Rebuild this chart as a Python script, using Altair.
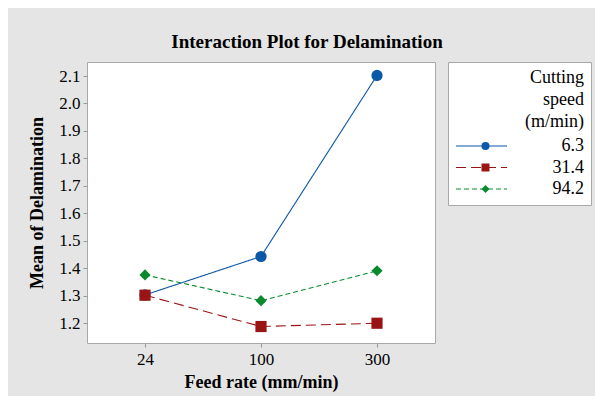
import altair as alt
import pandas as pd

# ---- data ----
feed_rates = ["24", "100", "300"]
speeds = ["6.3", "31.4", "94.2"]
mean_6_3 = [1.303, 1.443, 2.102]
mean_31_4 = [1.302, 1.188, 1.200]
mean_94_2 = [1.376, 1.282, 1.391]
y_tick_values = [1.2, 1.3, 1.4, 1.5, 1.6, 1.7, 1.8, 1.9, 2.0, 2.1]

colors = ["#0B57A8", "#9A1414", "#0A8A2E"]
dashes = [[1, 0], [10, 5], [5, 3]]
shapes = ["circle", "square", "diamond"]

rows = []
for sp, vals in zip(speeds, [mean_6_3, mean_31_4, mean_94_2]):
    for f, v in zip(feed_rates, vals):
        rows.append({"feed": f, "speed": sp, "mean": v})
df = pd.DataFrame(rows)

FONT = "Liberation Serif"
legend_title = ["Cutting", "speed", "(m/min)"]
blank_title = [" ", " ", " "]

x_enc = alt.X(
    "feed:N",
    sort=feed_rates,
    scale=alt.Scale(domain=feed_rates, padding=0.5),
    axis=alt.Axis(
        title="Feed rate (mm/min)", labelAngle=0, labelFontSize=17, labelFont=FONT,
        labelColor="black", titleFont=FONT, titleFontSize=18, titleFontWeight="bold",
        titleColor="black", tickSize=4, tickColor="#999999", domain=False,
        labelPadding=4, titlePadding=6, grid=False,
    ),
)
y_enc = alt.Y(
    "mean:Q",
    scale=alt.Scale(domain=[1.128, 2.151], nice=False, zero=False),
    axis=alt.Axis(
        title="Mean of Delamination", values=y_tick_values, format=".1f",
        labelFontSize=17, labelFont=FONT, labelColor="black", titleFont=FONT,
        titleFontSize=18, titleFontWeight="bold", titleColor="black",
        tickSize=4, tickColor="#999999", domain=False, labelPadding=3,
        titlePadding=12, grid=False,
    ),
)

common_legend = dict(
    orient="none", legendX=361, legendY=0,
    labelAlign="right", labelOffset=76, labelFontSize=18, labelFont=FONT,
    labelColor="black", titleFont=FONT, titleFontSize=18, titleFontWeight="normal",
    titleColor="black", titleAlign="right", titleAnchor="end", titleLineHeight=22,
    titlePadding=6, padding=7, rowPadding=3.5, clipHeight=18,
)
line_legend = alt.Legend(
    title=legend_title, symbolType="stroke", symbolSize=2601, symbolStrokeWidth=1.2,
    fillColor="white", strokeColor="#a8a8a8", **common_legend,
)
point_legend = alt.Legend(
    title=blank_title, symbolSize=64, symbolOffset=21.5, labelExpr="''",
    **common_legend,
)

lines = alt.Chart(df).mark_line(strokeWidth=1.1).encode(
    x=x_enc,
    y=y_enc,
    color=alt.Color("speed:N", scale=alt.Scale(domain=speeds, range=colors), legend=line_legend),
    strokeDash=alt.StrokeDash("speed:N", scale=alt.Scale(domain=speeds, range=dashes), legend=line_legend),
    order=alt.Order("feed_idx:Q"),
).transform_calculate(feed_idx="indexof(['24','100','300'], datum.feed)")

points = alt.Chart(df).mark_point(filled=True, size=125, opacity=1).encode(
    x=x_enc,
    y=y_enc,
    color=alt.Color("speed:N", scale=alt.Scale(domain=speeds, range=colors), legend=point_legend),
    shape=alt.Shape("speed:N", scale=alt.Scale(domain=speeds, range=shapes), legend=point_legend),
)

chart = (
    alt.layer(lines, points)
    .resolve_scale(color="independent", shape="independent", strokeDash="independent")
    .resolve_legend(color="independent", shape="independent", strokeDash="independent")
    .properties(
        width=348,
        height=281,
        title=alt.Title(
            "Interaction Plot for Delamination", font=FONT, fontSize=19,
            fontWeight="bold", color="black", offset=10, anchor="middle", dx=46,
        ),
        background="#e5e5e5",
        padding={"left": 79, "top": 54, "right": 160, "bottom": 53},
        autosize=alt.AutoSizeParams(type="none"),
    )
    .configure_view(stroke="#a8a8a8", strokeWidth=1, fill="white")
)

chart.save("out.html", embed_options={"renderer": "svg", "actions": False})
